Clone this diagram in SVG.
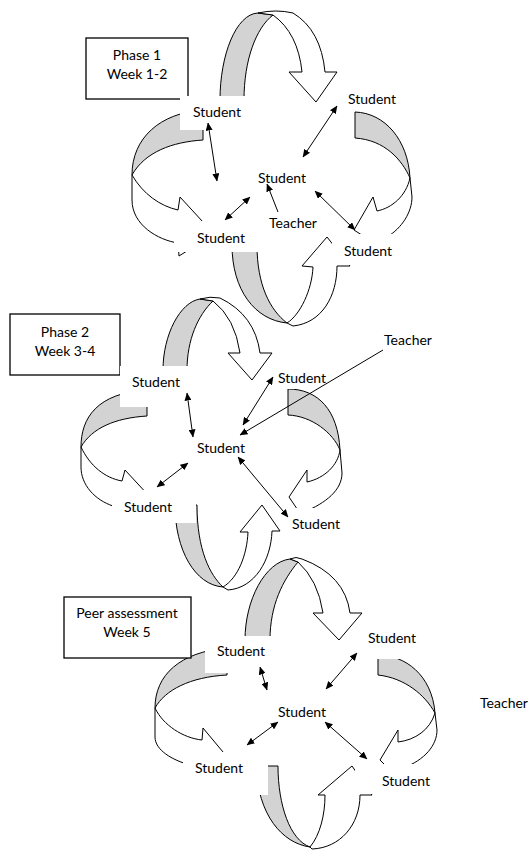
<svg xmlns="http://www.w3.org/2000/svg" width="530" height="851" viewBox="0 0 530 851">
<defs>
<style>
.bk{fill:#d3d3d3;stroke:#000;stroke-width:1;stroke-linejoin:round}
.fr{fill:#fff;stroke:#000;stroke-width:1;stroke-linejoin:miter}
.occ{fill:#fff;stroke:none}
.box{fill:#fff;stroke:#000;stroke-width:1.3}
text{font-family:Lato,"Open Sans","Liberation Sans",sans-serif;font-size:14px;fill:#000;text-anchor:middle}
.cn{stroke:#000;stroke-width:1;fill:none}
.d{marker-start:url(#ah);marker-end:url(#ah)}
.s{marker-end:url(#ah)}
</style>
<marker id="ah" viewBox="0 0 8 7" refX="7.5" refY="3.5" markerWidth="8" markerHeight="7" markerUnits="userSpaceOnUse" orient="auto-start-reverse"><path d="M0,0 L8,3.5 L0,7 Z" fill="#000"/></marker>
</defs>
<rect width="530" height="851" fill="#fff"/>

<g id="cycle-arrows">
<g id="p1-arrows">
<path class="bk" d="M220,100 C220,55 236,14 258,13 L273,15 C256,28 244,60 244,100 Z"/>
<path class="fr" d="M258,13 Q276,9 293,13 Q321,30 325,72 L337,72 L316,102 L289,72 L302,72 Q298,33 273,15 Z"/>
<path class="bk" d="M132,175 C132,138 160,113 203,110 L203,140 C172,142 145,152 132,175 Z"/>
<path class="fr" d="M132,175 C143,194 160,206 178,210 L180,197 L214,234 L179,256 L178,243 C158,240 132,225 132,200 Z"/>
<path class="bk" d="M355,112 C385,113 408,140 410,178 C402,160 385,140 355,138 Z"/>
<path class="fr" d="M410,178 C406,196 392,208 377,211 L373,197 L354,230 L388,252 L387,237 C402,228 412,212 412,197 Z"/>
<path class="bk" d="M232,245 C232,290 255,320 287,323 C270,310 257,285 257,245 Z"/>
<path class="fr" d="M287,323 C300,315 312,290 313,267 L302,266 L327,237 L350,266 L337,266 C337,296 322,323 293,326 Z"/>
</g>
<g id="p2-arrows">
<path class="bk" d="M163,370 C163,335 180,302 200,299 L213,301 C198,315 187,340 187,370 Z"/>
<path class="fr" d="M200,299 Q210,296 220,298 Q255,315 260,353 L272,353 L252,380 L228,353 L240,353 Q235,318 213,301 Z"/>
<path class="bk" d="M81,447 C81,418 97,393 147,390 L147,416 C115,418 92,428 81,447 Z"/>
<path class="fr" d="M81,447 C90,466 105,478 122,481 L125,470 L150,497 L116,520 L113,506 C95,500 81,485 81,467 Z"/>
<path class="bk" d="M288,389 C318,389 338,410 340,450 C333,433 312,416 288,415 Z"/>
<path class="fr" d="M340,450 C338,465 325,478 307,482 L307,470 L289,497 L310,528 L304,512 C326,503 342,490 342,473 Z"/>
<path class="bk" d="M175,505 C175,550 195,585 223,587 C210,575 197,550 197,505 Z"/>
<path class="fr" d="M223,587 C238,578 247,555 248,532 L240,532 L262,505 L280,531 L272,531 C271,560 255,588 228,590 Z"/>
</g>
<g id="p3-arrows">
<path class="bk" d="M245,640 C245,600 265,562 290,559 L298,562 C283,580 270,605 270,640 Z"/>
<path class="fr" d="M290,559 Q296,556 302,559 Q345,575 350,613 L362,613 L339,640 L313,613 L323,613 Q318,580 298,562 Z"/>
<path class="bk" d="M155,708 C155,675 180,652 227,648 L227,675 C190,677 165,690 155,708 Z"/>
<path class="fr" d="M155,708 C163,725 183,738 202,740 L203,728 L228,758 L196,778 L190,765 C172,760 155,750 155,737 Z"/>
<path class="bk" d="M378,655 C405,655 432,675 435,713 C425,695 405,678 378,675 Z"/>
<path class="fr" d="M435,713 C430,730 415,740 398,742 L398,730 L380,760 L405,785 L403,768 C425,760 437,745 437,730 Z"/>
<path class="bk" d="M256,766 L278,766 C278,805 290,840 310,847 C282,843 258,815 256,766 Z"/>
<path class="fr" d="M310,847 C320,835 325,815 325,795 L318,795 L352,766 L372,795 L360,795 C360,825 340,848 312,849 Z"/>
</g>
</g>

<g id="phase1-box"><rect class="box" x="86" y="38" width="102" height="61"/><text x="137" y="60">Phase 1</text><text x="137" y="79">Week 1-2</text></g>
<g id="phase2-box"><rect class="box" x="10" y="314" width="110" height="61"/><text x="65" y="337">Phase 2</text><text x="65" y="356">Week 3-4</text></g>
<g id="phase3-box"><rect class="box" x="64" y="597" width="127" height="61"/><text x="127" y="618">Peer assessment</text><text x="127" y="637">Week 5</text></g>

<g id="p1-student-tl"><rect class="occ" x="180" y="96" width="75" height="34"/><text x="217" y="117">Student</text></g>
<g id="p1-student-tr"><rect class="occ" x="340" y="86" width="64" height="24"/><text x="372" y="104">Student</text></g>
<g id="p1-student-c"><text x="282" y="183">Student</text></g>
<g id="p1-teacher"><text x="293" y="228">Teacher</text></g>
<g id="p1-student-bl"><rect class="occ" x="174" y="221" width="84" height="31"/><text x="221" y="243">Student</text></g>
<g id="p1-student-br"><rect class="occ" x="332" y="234" width="70" height="31"/><text x="368" y="256">Student</text></g>

<g id="p2-student-tl"><rect class="occ" x="120" y="366" width="75" height="41"/><text x="156" y="387">Student</text></g>
<g id="p2-student-tr"><rect class="occ" x="272" y="362" width="62" height="27"/><text x="302" y="383">Student</text></g>
<g id="p2-teacher"><text x="408" y="345">Teacher</text></g>
<g id="p2-student-c"><text x="221" y="453">Student</text></g>
<g id="p2-student-bl"><rect class="occ" x="112" y="490" width="84" height="33"/><text x="148" y="512">Student</text></g>
<g id="p2-student-br"><rect class="occ" x="288" y="508" width="60" height="28"/><text x="316" y="529">Student</text></g>

<g id="p3-student-tl"><rect class="occ" x="205" y="636" width="72" height="37"/><text x="241" y="656">Student</text></g>
<g id="p3-student-tr"><rect class="occ" x="360" y="622" width="62" height="37"/><text x="392" y="643">Student</text></g>
<g id="p3-student-c"><text x="302" y="717">Student</text></g>
<g id="p3-student-bl"><rect class="occ" x="183" y="752" width="85" height="43"/><text x="219" y="773">Student</text></g>
<g id="p3-student-br"><rect class="occ" x="355" y="764" width="85" height="30"/><text x="406" y="786">Student</text></g>
<g id="p3-teacher"><text x="504" y="708">Teacher</text></g>

<g id="connectors">
<line class="cn d" x1="208" y1="123" x2="217" y2="181"/>
<line class="cn d" x1="337" y1="106" x2="303" y2="157"/>
<line class="cn d" x1="250" y1="197" x2="225" y2="220"/>
<line class="cn s" x1="278" y1="212" x2="267" y2="184"/>
<line class="cn d" x1="315" y1="191" x2="355" y2="230"/>

<line class="cn d" x1="187" y1="393" x2="193" y2="437"/>
<line class="cn d" x1="273" y1="377" x2="243" y2="425"/>
<line class="cn s" x1="383" y1="350" x2="240" y2="435"/>
<line class="cn d" x1="188" y1="463" x2="157" y2="487"/>
<line class="cn d" x1="238" y1="457" x2="288" y2="517"/>

<line class="cn d" x1="260" y1="667" x2="267" y2="690"/>
<line class="cn d" x1="357" y1="653" x2="326" y2="689"/>
<line class="cn d" x1="278" y1="722" x2="247" y2="745"/>
<line class="cn d" x1="325" y1="722" x2="367" y2="759"/>
</g>
</svg>
